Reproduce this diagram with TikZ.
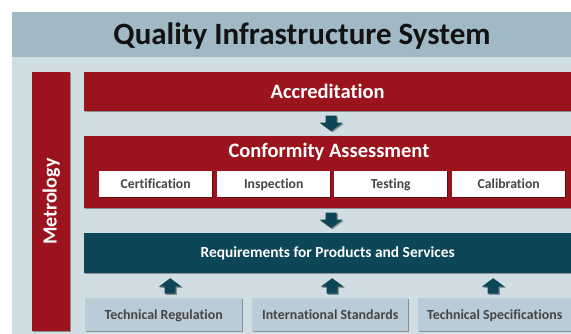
\documentclass[tikz,border=0pt]{standalone}
\usepackage{fontspec}
\setmainfont{Carlito}[Ligatures=NoCommon]
\usetikzlibrary{shadows,calc}
\definecolor{qired}{HTML}{9B131D}
\definecolor{qiteal}{HTML}{0C4657}
\definecolor{qiband}{HTML}{A1B8C5}
\definecolor{qipanel}{HTML}{D0DDE3}
\definecolor{qibottom}{HTML}{B9CCD8}
\definecolor{qitext}{HTML}{454545}
\tikzset{
  shad/.style={drop shadow={shadow xshift=1.2pt,shadow yshift=-1.2pt,fill=black,opacity=0.35}},
  redbox/.style={shad,fill=qired,text=white,font=\bfseries\fontsize{20.5}{24}\selectfont,inner sep=0pt,anchor=north west},
  subbox/.style={shad,fill=white,text=qitext,font=\bfseries\fontsize{13.7}{16}\selectfont,minimum width=113pt,minimum height=26pt,text height=12.5pt,text depth=3pt,inner sep=0pt,anchor=north west},
  reqbox/.style={shad,fill=qiteal,text=white,font=\bfseries\fontsize{15.4}{18}\selectfont,inner sep=0pt,anchor=north west},
  botbox/.style={shad,fill=qibottom,text=qitext,font=\bfseries\fontsize{13.9}{16}\selectfont,minimum height=33pt,text height=13pt,text depth=3pt,inner sep=0pt,anchor=north west},
  darrow/.pic={\fill[qiteal,shad] (-5.5,-8) -- (5.5,-8) -- (5.5,-1) -- (11.5,-1) -- (0,7.5) -- (-11.5,-1) -- (-5.5,-1) -- cycle;},
  uarrow/.pic={\fill[qiteal,shad] (-5.5,8) -- (5.5,8) -- (5.5,1) -- (11.5,1) -- (0,-7.5) -- (-11.5,1) -- (-5.5,1) -- cycle;}
}
\begin{document}
\begin{tikzpicture}[x=1pt,y=-1pt]
\useasboundingbox (0,0) rectangle (571,334);
\fill[white] (0,0) rectangle (571,334);
\fill[qipanel] (12,57) rectangle (571,334);
\node[fill=qiband,minimum width=559pt,minimum height=45pt,inner sep=0pt,anchor=north west] (band) at (12,12) {};
\node[font=\bfseries\fontsize{31}{36}\selectfont,text=black!93] (title) at (302,36) {Quality Infrastructure System};
\node[redbox,minimum width=38pt,minimum height=259pt] (met) at (32,72) {};
\node[rotate=90,text=white,font=\bfseries\fontsize{20}{24}\selectfont] (mettext) at (met.center) {Metrology};
\node[redbox,minimum width=487pt,minimum height=39pt] (acc) at (84,72) {Accreditation};
\node[redbox,minimum width=487pt,minimum height=72pt] (ca) at (84,136) {};
\node[text=white,font=\bfseries\fontsize{20.5}{24}\selectfont] (catext) at (329,152) {Conformity Assessment};
\node[subbox] (cert) at (99,171) {Certification};
\node[subbox] (insp) at (217,171) {Inspection};
\node[subbox] (test) at (334,171) {Testing};
\node[subbox] (cal) at (452,171) {Calibration};
\node[reqbox,minimum width=487pt,minimum height=40pt] (req) at (84,233) {Requirements for Products and Services};
\node[botbox,minimum width=157pt] (treg) at (85,298) {Technical Regulation};
\node[botbox,minimum width=156pt] (istd) at (252,298) {International Standards};
\node[botbox,minimum width=153pt] (tspec) at (418,298) {Technical Specifications};
\path ($(acc.south)!0.5!(ca.north)$) ++(3.5,0) pic {darrow};
\path ($(ca.south)!0.5!(req.north)$) ++(3.5,0) pic {darrow};
\path ($(treg.north)!0.5!(treg.north|-req.south)$) ++(6.5,0) pic {uarrow};
\path ($(istd.north)!0.5!(istd.north|-req.south)$) ++(2,0) pic {uarrow};
\path ($(tspec.north)!0.5!(tspec.north|-req.south)$) ++(-1.5,0) pic {uarrow};
\end{tikzpicture}
\end{document}
